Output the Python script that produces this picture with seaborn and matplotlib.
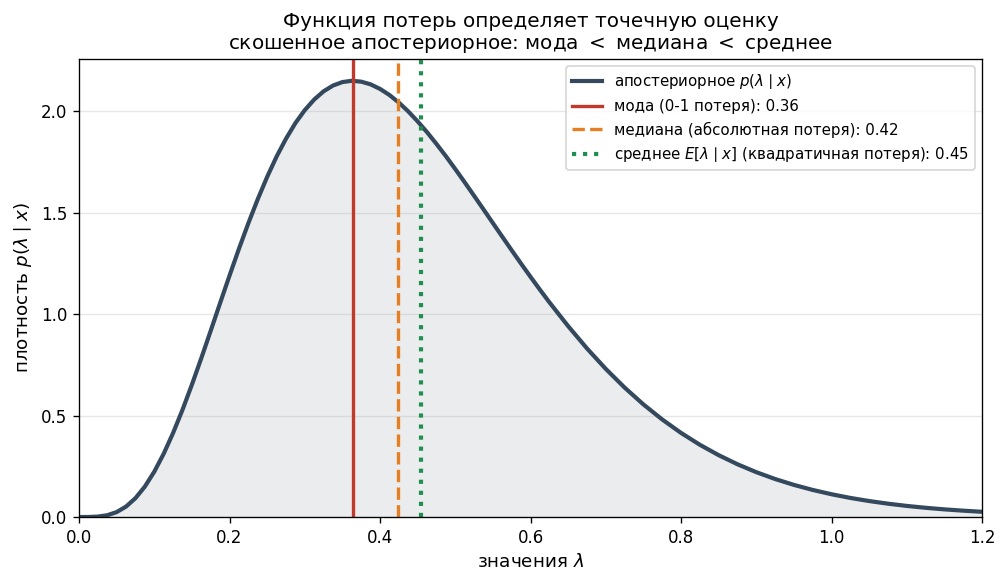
import numpy as np
import pandas as pd
import seaborn as sns
from matplotlib import pyplot as plt

# posterior density (finer steps where it bends most)
lam = [0.0, 0.0125, 0.025, 0.0375, 0.05, 0.0625, 0.075, 0.0875, 0.1, 0.1125,
       0.125, 0.1375, 0.15, 0.1625, 0.175, 0.1875, 0.2, 0.2125, 0.225, 0.2375,
       0.25, 0.2625, 0.275, 0.2875, 0.3, 0.3125, 0.325, 0.3375, 0.35, 0.3625,
       0.375, 0.3875, 0.4, 0.4125, 0.425, 0.4375, 0.45, 0.4625, 0.475, 0.4875,
       0.5, 0.5125, 0.525, 0.5375, 0.55, 0.5625, 0.575, 0.5875, 0.6, 0.6125,
       0.625, 0.65, 0.675, 0.7, 0.725, 0.75, 0.775, 0.8, 0.825, 0.85,
       0.875, 0.9, 0.925, 0.95, 0.975, 1.0, 1.025, 1.05, 1.075, 1.1,
       1.125, 1.15, 1.175, 1.2]
density = [0.0, 0.0001, 0.0020, 0.0088, 0.0242, 0.0515, 0.0930, 0.1502, 0.2234, 0.3118,
           0.4142, 0.5284, 0.6523, 0.7831, 0.9180, 1.0546, 1.1896, 1.3217, 1.4475, 1.5660,
           1.6758, 1.7757, 1.8636, 1.9407, 2.0046, 2.0568, 2.0973, 2.1257, 2.1428, 2.1491,
           2.1448, 2.1315, 2.1090, 2.0791, 2.0417, 1.9982, 1.9490, 1.8957, 1.8379, 1.7776,
           1.7140, 1.6490, 1.5825, 1.5156, 1.4479, 1.3806, 1.3138, 1.2478, 1.1831, 1.1197,
           1.0581, 0.9403, 0.8305, 0.7296, 0.6377, 0.5547, 0.4804, 0.4143, 0.3559, 0.3047,
           0.2599, 0.2209, 0.1872, 0.1582, 0.1333, 0.1121, 0.0940, 0.0786, 0.0656, 0.0546,
           0.0454, 0.0376, 0.0312, 0.0257]

mode_val = 0.3636
median_val = 0.4242
mean_val = 0.4545
peak_val = 2.149

df = pd.DataFrame({'lam': lam, 'density': density})

fig = plt.figure(figsize=(1007 / 120, 583 / 120), dpi=120)
ax = fig.add_axes([0.0785, 0.1132, 0.8967, 0.7856])

sns.lineplot(data=df, x='lam', y='density', color='#34495e', linewidth=2.5,
             label=r'апостериорное $p(\lambda\mid x)$', ax=ax)
ax.fill_between(df.lam, df.density, color='#34495e', alpha=0.1, linewidth=0)

ax.axvline(mode_val, color='#c0392b', linewidth=2,
           label=f'мода (0-1 потеря): {mode_val:.2f}')
ax.axvline(median_val, color='#e67e22', linewidth=2, linestyle='--',
           label=f'медиана (абсолютная потеря): {median_val:.2f}')
ax.axvline(mean_val, color='#1e8f4e', linewidth=2.5, linestyle=':',
           label=r'среднее $E[\lambda\mid x]$ (квадратичная потеря): ' + f'{mean_val:.2f}')

ax.set_xlim(0, 1.2)
ax.set_ylim(0, peak_val * 1.05)
ax.grid(axis='y', alpha=0.3)
ax.set_xlabel(r'значения $\lambda$', fontsize=11)
ax.set_ylabel(r'плотность $p(\lambda\mid x)$', fontsize=11)
ax.set_title('Функция потерь определяет точечную оценку\n'
             'скошенное апостериорное: мода $<$ медиана $<$ среднее', fontsize=12)
ax.legend(loc='upper right', fontsize=9)

fig.savefig('out.png', dpi=120)
